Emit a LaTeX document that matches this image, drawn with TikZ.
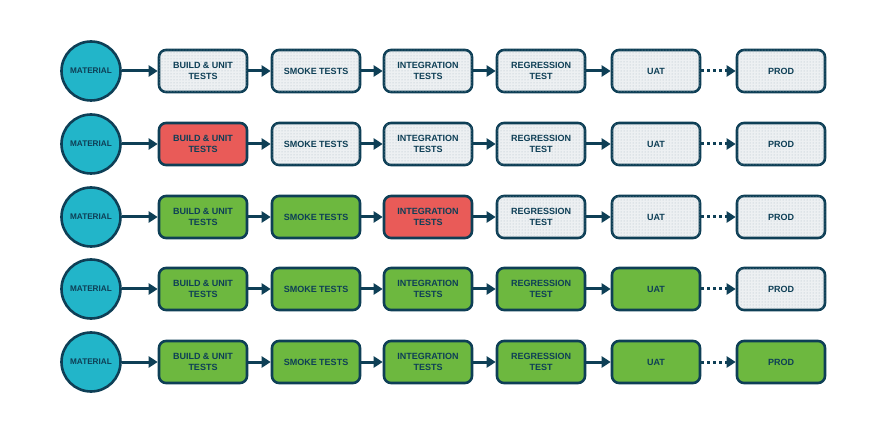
\documentclass[tikz,border=0pt]{standalone}
\usepackage{fontspec}
\setmainfont{Liberation Sans}
\usetikzlibrary{arrows.meta,patterns}
\definecolor{navy}{HTML}{0E3F56}
\definecolor{teal}{HTML}{22B5C9}
\definecolor{redbox}{HTML}{E95B58}
\definecolor{greenbox}{HTML}{6DB83F}
\definecolor{pend}{HTML}{EDF0F2}
\tikzset{
  base/.style={draw=navy, line width=2.6pt, rounded corners=7pt, minimum width=88pt, minimum height=42pt,
    inner sep=0pt, align=center, font=\fontsize{9}{11}\selectfont\bfseries, text=navy},
  pending/.style={base, fill=pend, postaction={pattern=dots, pattern color=navy!35}},
  failed/.style={base, fill=redbox},
  passed/.style={base, fill=greenbox},
  mat/.style={circle, draw=navy, line width=2.6pt, fill=teal, minimum size=59pt, inner sep=0pt,
    font=\fontsize{8.2}{10}\selectfont\bfseries, text=navy},
  conn/.style={draw=navy, line width=3pt, -{Triangle[length=9pt,width=11pt]}},
  dconn/.style={conn, dash pattern=on 3pt off 3pt},
}
\begin{document}
\begin{tikzpicture}[x=1pt,y=-1pt]
\useasboundingbox (0,0) rectangle (880,443);
\foreach \r/\y/\s in {1/71/{pending,pending,pending,pending,pending,pending},
                    2/144/{failed,pending,pending,pending,pending,pending},
                    3/217/{passed,passed,failed,pending,pending,pending},
                    4/289/{passed,passed,passed,passed,passed,pending},
                    5/362/{passed,passed,passed,passed,passed,passed}}{
  \node[mat] (m\r) at (91,\y) {MATERIAL};
  \foreach \st [count=\i] in \s {
    \ifcase\i\or
      \node[\st] (b\r-1) at (203,\y) {BUILD \& UNIT\\TESTS};\or
      \node[\st] (b\r-2) at (316,\y) {SMOKE TESTS};\or
      \node[\st] (b\r-3) at (428,\y) {INTEGRATION\\TESTS};\or
      \node[\st] (b\r-4) at (541,\y) {REGRESSION\\TEST};\or
      \node[\st] (b\r-5) at (656,\y) {UAT};\or
      \node[\st] (b\r-6) at (781,\y) {PROD};\fi
  }
  \draw[conn] (m\r) -- (b\r-1);
  \draw[conn] (b\r-1) -- (b\r-2);
  \draw[conn] (b\r-2) -- (b\r-3);
  \draw[conn] (b\r-3) -- (b\r-4);
  \draw[conn] (b\r-4) -- (b\r-5);
  \draw[dconn] (b\r-5) -- (b\r-6);
}
\end{tikzpicture}
\end{document}
